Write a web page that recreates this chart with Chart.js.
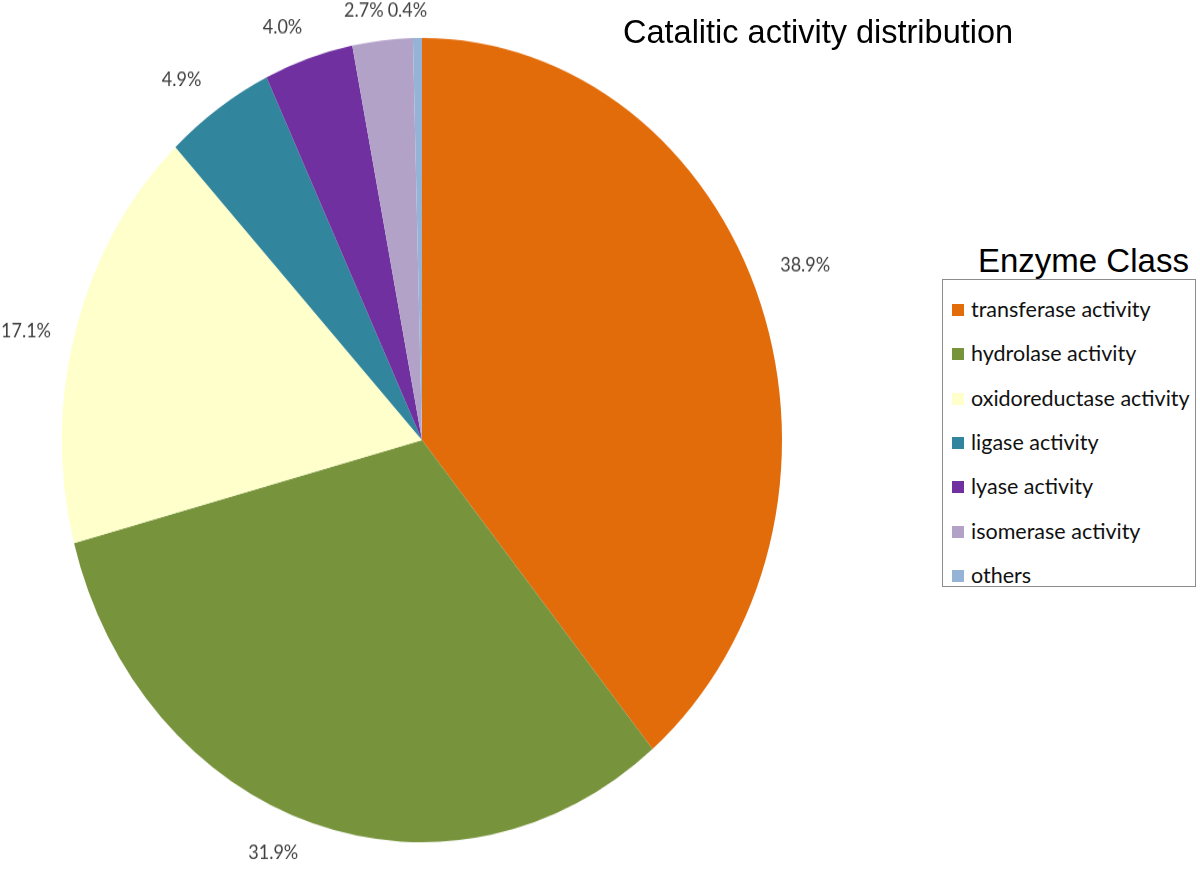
<!DOCTYPE html>
<html>
<head>
<meta charset="utf-8">
<script src="https://cdn.jsdelivr.net/npm/chart.js@4"></script>
<style>
  body { margin: 0; background: #fff; }
  #wrap { position: relative; width: 1200px; height: 869px; overflow: hidden; }
  #pie { position: absolute; left: 0; top: 0; transform: scaleY(1.117); transform-origin: 0 0; }
  #title { position: absolute; left: 623px; top: 14px; font: 32.5px "Liberation Sans", Arial, sans-serif; color: #000; white-space: nowrap; }
  #legendTitle { position: absolute; left: 978px; top: 242px; font: 33px "Liberation Sans", Arial, sans-serif; color: #000; white-space: nowrap; }
  #legend { position: absolute; left: 942px; top: 279px; width: 254px; height: 308px; border: 1px solid #8c8c8c; box-sizing: border-box; }
  #legend div { position: absolute; left: 9px; font: 21.5px Lato, "DejaVu Sans", sans-serif; color: #111; white-space: nowrap; line-height: 24px; }
  #legend span { display: inline-block; width: 12px; height: 12px; margin-right: 7px; vertical-align: 1px; }
</style>
</head>
<body>
<div id="wrap">
  <canvas id="pie" width="860" height="778"></canvas>
  <div id="title">Catalitic activity distribution</div>
  <div id="legendTitle">Enzyme Class</div>
  <div id="legend"></div>
</div>
<script>
const categories = ['transferase activity', 'hydrolase activity', 'oxidoreductase activity',
  'ligase activity', 'lyase activity', 'isomerase activity', 'others'];
const shares = [38.9, 31.9, 17.1, 4.9, 4.0, 2.7, 0.4];
const colors = ['#E36C0A', '#77933C', '#FFFFCC', '#31859C', '#7030A0', '#B3A2C7', '#95B3D7'];

// percentage labels placed just outside each slice
const outsideLabels = {
  id: 'outsideLabels',
  afterDatasetsDraw(chart) {
    const ctx = chart.ctx;
    const meta = chart.getDatasetMeta(0);
    ctx.save();
    ctx.font = '18px Lato, "DejaVu Sans", sans-serif';
    ctx.fillStyle = '#404040';
    ctx.textAlign = 'center';
    ctx.textBaseline = 'middle';
    const boxes = meta.data.map((arc, i) => {
      const p = arc.getProps(['x', 'y', 'startAngle', 'endAngle', 'outerRadius'], true);
      let mid = (p.startAngle + p.endAngle) / 2;
      mid += Math.sin(mid) < 0 ? -0.04 : 0.075;
      const dx = Math.cos(mid), dy = Math.sin(mid);
      const txt = shares[i].toFixed(1) + '%';
      const w = ctx.measureText(txt).width;
      const half = Math.abs(dx) * w / 2 + Math.abs(dy) * 10;
      const d = p.outerRadius + 14 + 14 * Math.abs(dx) + half;
      const x = Math.max(p.x + dx * d, w / 2 + 1);
      return { txt, w, x, y: p.y + dy * d };
    });
    // push crowded labels apart, later slice moves on
    for (let i = 1; i < boxes.length; i++) {
      const a = boxes[i - 1], b = boxes[i];
      if (Math.abs(a.y - b.y) < 16) {
        const overlap = (a.w + b.w) / 2 + 4 - Math.abs(b.x - a.x);
        if (overlap > 0) b.x += b.x >= a.x ? overlap : -overlap;
      }
    }
    boxes.forEach(b => ctx.fillText(b.txt, b.x, b.y));
    ctx.restore();
  }
};

const chart = new Chart('pie', {
  type: 'pie',
  data: {
    labels: categories,
    datasets: [{
      data: shares,
      backgroundColor: colors,
      borderWidth: 0
    }]
  },
  options: {
    responsive: false,
    animation: false,
    layout: { padding: { left: 62, right: 78, top: 34, bottom: 24 } },
    plugins: {
      legend: { display: false },
      tooltip: { enabled: false }
    }
  },
  plugins: [outsideLabels]
});

// legend built from the chart's own items
const legendBox = document.getElementById('legend');
chart.options.plugins.legend.labels.generateLabels(chart).forEach((item, i) => {
  const row = document.createElement('div');
  row.style.top = (17 + i * 44.3) + 'px';
  row.innerHTML = '<span style="background:' + item.fillStyle + '"></span>' + item.text;
  legendBox.appendChild(row);
});
</script>
</body>
</html>
